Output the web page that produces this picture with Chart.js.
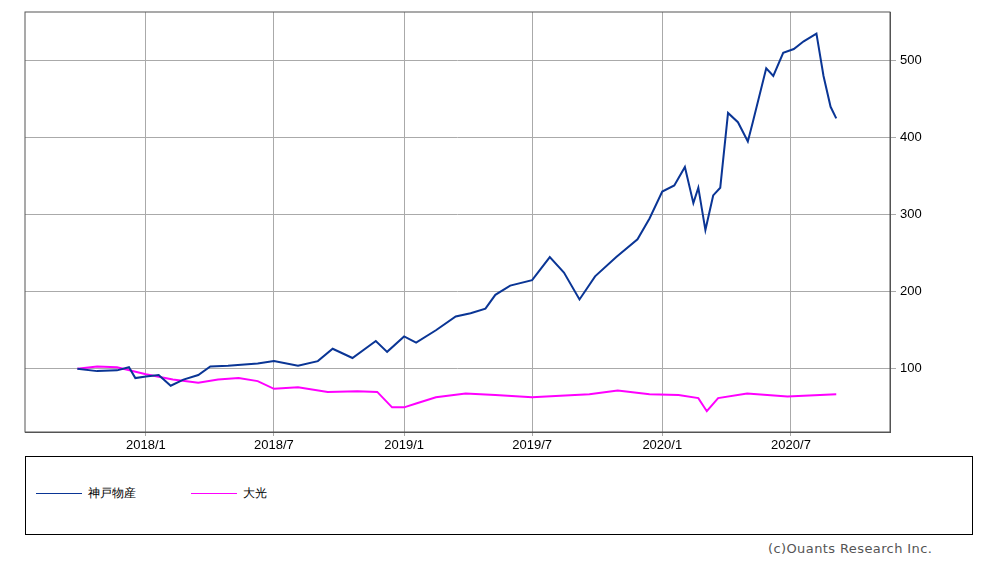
<!DOCTYPE html>
<html><head><meta charset="utf-8">
<script src="https://cdn.jsdelivr.net/npm/chart.js@4"></script>
<style>
body{margin:0;background:#fff;font-family:"DejaVu Sans",sans-serif;}
#wrap{position:absolute;left:0;top:0;width:990px;height:452px;}
#legend{position:absolute;left:25px;top:456px;width:946px;height:77px;border:1px solid #000;font-size:12px;}
.item{position:absolute;top:28px;}
.item span{display:inline-block;width:46px;height:0;border-top:1px solid;vertical-align:middle;margin-right:6px;}
#copy{position:absolute;left:768px;top:541px;font-size:13px;color:#555;letter-spacing:0.4px;}
</style></head><body>
<div id="wrap"><canvas id="myChart"></canvas></div>
<div id="legend">
<div class="item" style="left:10px"><span style="border-color:#0a3595"></span>神戸物産</div>
<div class="item" style="left:165px"><span style="border-color:#ff00ff"></span>大光</div>
</div>
<div id="copy">(c)Ouants Research Inc.</div>
<script>
// data
const kobeDates = ['2017-09-26','2017-10-24','2017-11-21','2017-12-08','2017-12-17','2018-01-01','2018-01-19','2018-02-05','2018-02-23','2018-03-16','2018-04-02','2018-04-27','2018-06-08','2018-07-01','2018-08-04','2018-09-01','2018-09-22','2018-10-20','2018-11-22','2018-12-08','2019-01-01','2019-01-18','2019-02-15','2019-03-15','2019-04-05','2019-04-26','2019-05-10','2019-05-31','2019-07-01','2019-07-26','2019-08-15','2019-09-06','2019-09-28','2019-10-28','2019-11-27','2019-12-14','2020-01-01','2020-01-18','2020-02-02','2020-02-14','2020-02-21','2020-03-02','2020-03-13','2020-03-23','2020-04-03','2020-04-17','2020-05-01','2020-05-08','2020-05-27','2020-06-06','2020-06-20','2020-07-05','2020-07-19','2020-08-06','2020-08-16','2020-08-26','2020-09-03'];
const kobeValues = [100,97,98,102,88,90,92,78,86,92,103,104,107,110,104,110,126,114,136,122,142,134,150,168,172,178,196,208,215,245,225,190,220,245,268,295,330,338,362,315,335,280,325,335,432,420,395,420,490,480,510,515,525,535,480,440,425];
const taikoDates = ['2017-09-26','2017-10-24','2017-11-21','2018-01-01','2018-02-08','2018-03-16','2018-04-13','2018-05-12','2018-06-08','2018-07-01','2018-08-04','2018-09-15','2018-10-27','2018-11-24','2018-12-15','2019-01-01','2019-01-18','2019-02-15','2019-03-29','2019-05-10','2019-07-01','2019-08-10','2019-09-20','2019-10-30','2019-12-14','2020-01-24','2020-02-21','2020-03-04','2020-03-20','2020-04-30','2020-06-26','2020-09-03'];
const taikoValues = [100,103,102,93,86,82,86,88,84,74,76,70,71,70,50,50,55,63,68,66,63,65,67,72,67,66,62,45,62,68,64,67];
const yTicks = [100,200,300,400,500];
const xTickLabels = ['2018/1','2018/7','2019/1','2019/7','2020/1','2020/7'];

const day = s => Date.parse(s) / 86400000;
const pts = (d, v) => d.map((s, i) => ({x: day(s), y: v[i]}));
const fmt = d => { const t = new Date(d * 86400000); return t.getUTCFullYear() + '/' + (t.getUTCMonth() + 1); };

new Chart(document.querySelector('#myChart'), {
  type: 'line',
  data: {datasets: [
    {data: pts(kobeDates, kobeValues), borderColor: '#0a3595', borderWidth: 2, pointRadius: 0, tension: 0},
    {data: pts(taikoDates, taikoValues), borderColor: '#ff00ff', borderWidth: 2, pointRadius: 0, tension: 0}
  ]},
  options: {
    animation: false, responsive: true, maintainAspectRatio: false,
    layout: {padding: {left: 25, top: 12}},
    plugins: {legend: {display: false}, tooltip: {enabled: false}},
    scales: {
      x: {type: 'linear', min: day('2017-07-14'), max: day('2020-11-18'),
        afterBuildTicks: a => { a.ticks = xTickLabels.map(l => ({value: day(l.replace('/', '-').replace(/-(\d)$/, '-0$1') + '-01')})); },
        afterFit: a => { a.height = 20; },
        ticks: {callback: v => fmt(v), color: '#000', font: {size: 13}, maxRotation: 0, padding: 2},
        grid: {color: '#aaa', tickLength: 4}, border: {color: '#555'}},
      y: {position: 'right', min: 18, max: 563,
        afterBuildTicks: a => { a.ticks = yTicks.map(v => ({value: v})); },
        afterFit: a => { a.width = 100; },
        ticks: {color: '#000', font: {size: 13}, padding: 4},
        grid: {color: '#aaa', tickLength: 6}, border: {color: '#555'}}
    }
  },
  plugins: [{id: 'box', afterDraw(c) {
    const a = c.chartArea, x = c.ctx;
    x.save(); x.strokeStyle = '#555'; x.strokeRect(a.left, a.top, a.right - a.left, a.bottom - a.top); x.restore();
  }}]
});
</script>
</body></html>
